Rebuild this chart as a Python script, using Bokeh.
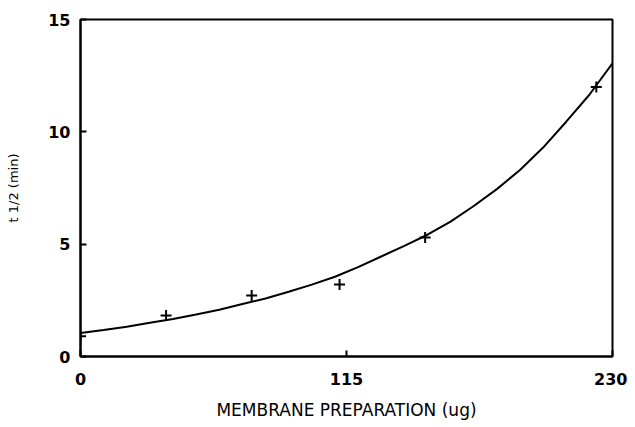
from bokeh.plotting import figure
from bokeh.models import Range1d, FixedTicker
from bokeh.embed import file_html
from bokeh.resources import INLINE

# measured points (membrane preparation ug, t1/2 min)
point_x = [0, 37, 74, 112, 149, 223]
point_y = [0.9, 1.82, 2.71, 3.2, 5.3, 12.0]

# fitted curve
curve_x = [0, 10, 20, 30, 40, 50, 60, 70, 80, 90, 100, 110, 120, 130, 140, 150,
           160, 170, 180, 190, 200, 210, 220, 230]
curve_y = [1.05, 1.18, 1.32, 1.5, 1.67, 1.87, 2.08, 2.34, 2.58, 2.88, 3.2, 3.55,
           3.98, 4.45, 4.92, 5.42, 6.0, 6.7, 7.45, 8.3, 9.3, 10.45, 11.65, 13.05]

x_ticks = [0, 115, 230]
y_ticks = [0, 5, 10, 15]

FONT = "DejaVu Sans"

p = figure(width=627, height=415, output_backend="svg", toolbar_location=None,
           x_range=Range1d(0, 230), y_range=Range1d(0, 15),
           frame_width=532, frame_height=337)
p.min_border_left = 80
p.min_border_right = 15
p.min_border_top = 19
p.min_border_bottom = 59

p.xgrid.visible = False
p.ygrid.visible = False
p.outline_line_color = "black"
p.outline_line_width = 2
p.background_fill_color = "white"
p.border_fill_color = "white"

p.line(curve_x, curve_y, line_color="black", line_width=2)
p.scatter(point_x, point_y, marker="cross", size=11, line_color="black", line_width=2)

for ax in (p.xaxis[0], p.yaxis[0]):
    ax.axis_line_color = "black"
    ax.axis_line_width = 2
    ax.major_tick_in = 6
    ax.major_tick_out = 0
    ax.major_tick_line_width = 2
    ax.minor_tick_line_color = None
    ax.major_label_text_font = FONT
    ax.major_label_text_font_size = "16px"
    ax.major_label_text_font_style = "bold"
    ax.major_label_text_color = "black"
    ax.axis_label_text_font = FONT
    ax.axis_label_text_font_style = "normal"
    ax.axis_label_text_color = "black"

p.xaxis[0].ticker = FixedTicker(ticks=x_ticks)
p.yaxis[0].ticker = FixedTicker(ticks=y_ticks)
p.xaxis[0].major_label_standoff = 16
p.yaxis[0].major_label_standoff = 10
p.xaxis[0].axis_label = "MEMBRANE PREPARATION (ug)"
p.yaxis[0].axis_label = "t 1/2 (min)"
p.xaxis[0].axis_label_text_font_size = "17px"
p.yaxis[0].axis_label_text_font_size = "13px"
p.xaxis[0].axis_label_standoff = 12
p.yaxis[0].axis_label_standoff = 24

open("out.html", "w").write(file_html(p, INLINE))
